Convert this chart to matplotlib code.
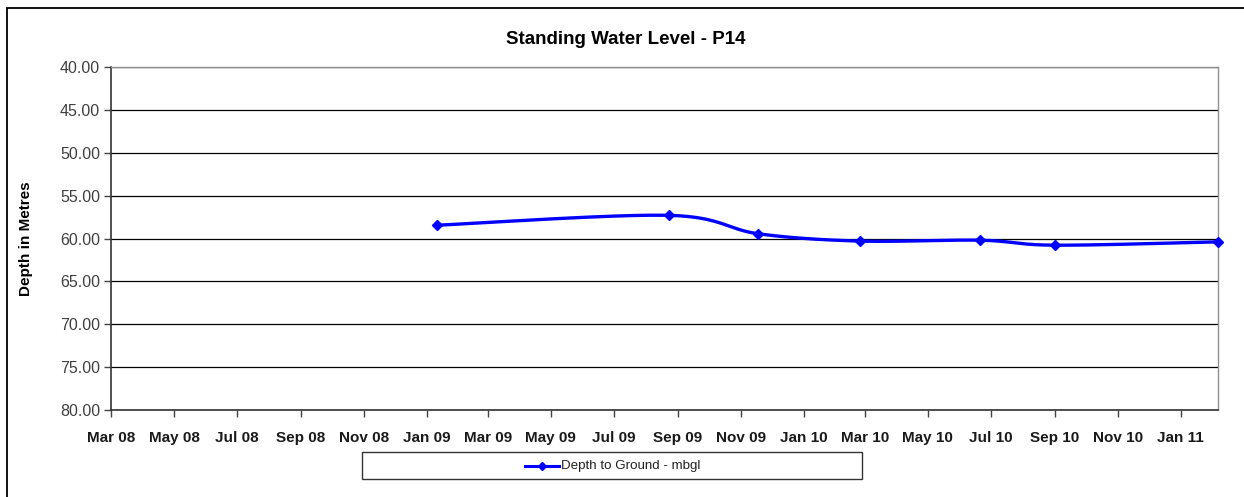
import matplotlib
matplotlib.use("Agg")
import matplotlib.pyplot as plt
import matplotlib.dates as mdates
from matplotlib.patches import Rectangle
from matplotlib.lines import Line2D
import numpy as np
import datetime as dt

plt.rcParams['font.family'] = ['Liberation Sans', 'DejaVu Sans']

dates = ["2009-01-11", "2009-08-23", "2009-11-18", "2010-02-24",
         "2010-06-21", "2010-09-01", "2011-02-06"]
depths = [58.45, 57.3, 59.45, 60.3, 60.2, 60.78, 60.39]
tick_labels = ["Mar 08", "May 08", "Jul 08", "Sep 08", "Nov 08", "Jan 09", "Mar 09",
               "May 09", "Jul 09", "Sep 09", "Nov 09", "Jan 10", "Mar 10", "May 10",
               "Jul 10", "Sep 10", "Nov 10", "Jan 11"]
series_name = "Depth to Ground - mbgl"
title = "Standing Water Level - P14"
ylabel = "Depth in Metres"

W, H = 1244, 497
fig = plt.figure(figsize=(W / 100, H / 100), dpi=100)

# outer frame (extends past the right and bottom edges, as in the cropped original)
fig.patches.append(Rectangle((7.5 / W, -20 / H), (1300 - 7.5) / W, (H - 8 + 20) / H,
                             transform=fig.transFigure, fill=False,
                             edgecolor='black', linewidth=1.3))

ax = fig.add_axes([111 / W, 1 - 410 / H, (1218 - 111) / W, (410 - 67) / H])

x = mdates.date2num([dt.datetime.strptime(d, "%Y-%m-%d") for d in dates])
y = np.array(depths)


def smooth(xs, ys, n=40):
    # Catmull-Rom style Bezier like Excel smoothed lines
    px, py = [], []
    N = len(xs)
    for i in range(N - 1):
        x0, y0 = (xs[i - 1], ys[i - 1]) if i > 0 else (xs[i], ys[i])
        x1, y1 = xs[i], ys[i]
        x2, y2 = xs[i + 1], ys[i + 1]
        x3, y3 = (xs[i + 2], ys[i + 2]) if i + 2 < N else (x2, y2)
        c1x, c1y = x1 + (x2 - x0) / 6, y1 + (y2 - y0) / 6
        c2x, c2y = x2 - (x3 - x1) / 6, y2 - (y3 - y1) / 6
        t = np.linspace(0, 1, n)
        bx = (1 - t) ** 3 * x1 + 3 * (1 - t) ** 2 * t * c1x + 3 * (1 - t) * t ** 2 * c2x + t ** 3 * x2
        by = (1 - t) ** 3 * y1 + 3 * (1 - t) ** 2 * t * c1y + 3 * (1 - t) * t ** 2 * c2y + t ** 3 * y2
        px.extend(bx)
        py.extend(by)
    return np.array(px), np.array(py)


sx, sy = smooth(x, y)
ax.plot(sx, sy, color='#0000FF', linewidth=2.4, solid_capstyle='round', zorder=3, clip_on=False)
ax.plot(x, y, linestyle='none', marker='D', markersize=5, color='#0000FF', zorder=4, clip_on=False)

xmin = mdates.date2num(dt.datetime(2008, 3, 1))
xmax = x[-1]
ax.set_xlim(xmin, xmax)
ax.set_ylim(80, 40)
ax.set_yticks(np.arange(40, 81, 5))
ax.set_yticklabels([f"{v:.2f}" for v in np.arange(40, 81, 5)], fontsize=11.5, color='#404040')

tick_dates = []
yy, mm = 2008, 3
for _ in tick_labels:
    tick_dates.append(mdates.date2num(dt.datetime(yy, mm, 1)))
    mm += 2
    if mm > 12:
        mm -= 12
        yy += 1
ax.set_xticks(tick_dates)
ax.set_xticklabels(tick_labels, fontsize=11, fontweight='bold', color='#1a1a1a')

ax.yaxis.grid(True, color='#000000', linewidth=0.9)
ax.set_axisbelow(True)
ax.tick_params(axis='both', direction='out', length=5, width=1, color='#444444')
ax.tick_params(axis='y', pad=3)
ax.tick_params(axis='x', pad=10)
for side in ['top', 'right']:
    ax.spines[side].set_color('#909090')
    ax.spines[side].set_linewidth(1)
for side in ['left', 'bottom']:
    ax.spines[side].set_color('#333333')
    ax.spines[side].set_linewidth(1.2)

ax.set_ylabel(ylabel, fontsize=11, fontweight='bold')
ax.yaxis.set_label_coords(-78 / (1218 - 111), 0.5)

fig.text(626 / W, 1 - 39 / H, title, ha='center', va='center', fontsize=13.5, fontweight='bold')

# legend
fig.patches.append(Rectangle((362 / W, 1 - 479 / H), (862 - 362) / W, (479 - 452) / H,
                             transform=fig.transFigure, fill=False,
                             edgecolor='#333333', linewidth=1))
fig.lines.append(Line2D([525 / W, 559 / W], [1 - 466 / H, 1 - 466 / H],
                        transform=fig.transFigure, color='#0000FF', linewidth=2.2))
fig.lines.append(Line2D([542 / W], [1 - 466 / H], transform=fig.transFigure,
                        color='#0000FF', marker='D', markersize=4, linestyle='none'))
fig.text(561 / W, 1 - 466 / H, series_name, ha='left', va='center', fontsize=9.6,
         color='#222222')

fig.savefig("out.png", dpi=100)
